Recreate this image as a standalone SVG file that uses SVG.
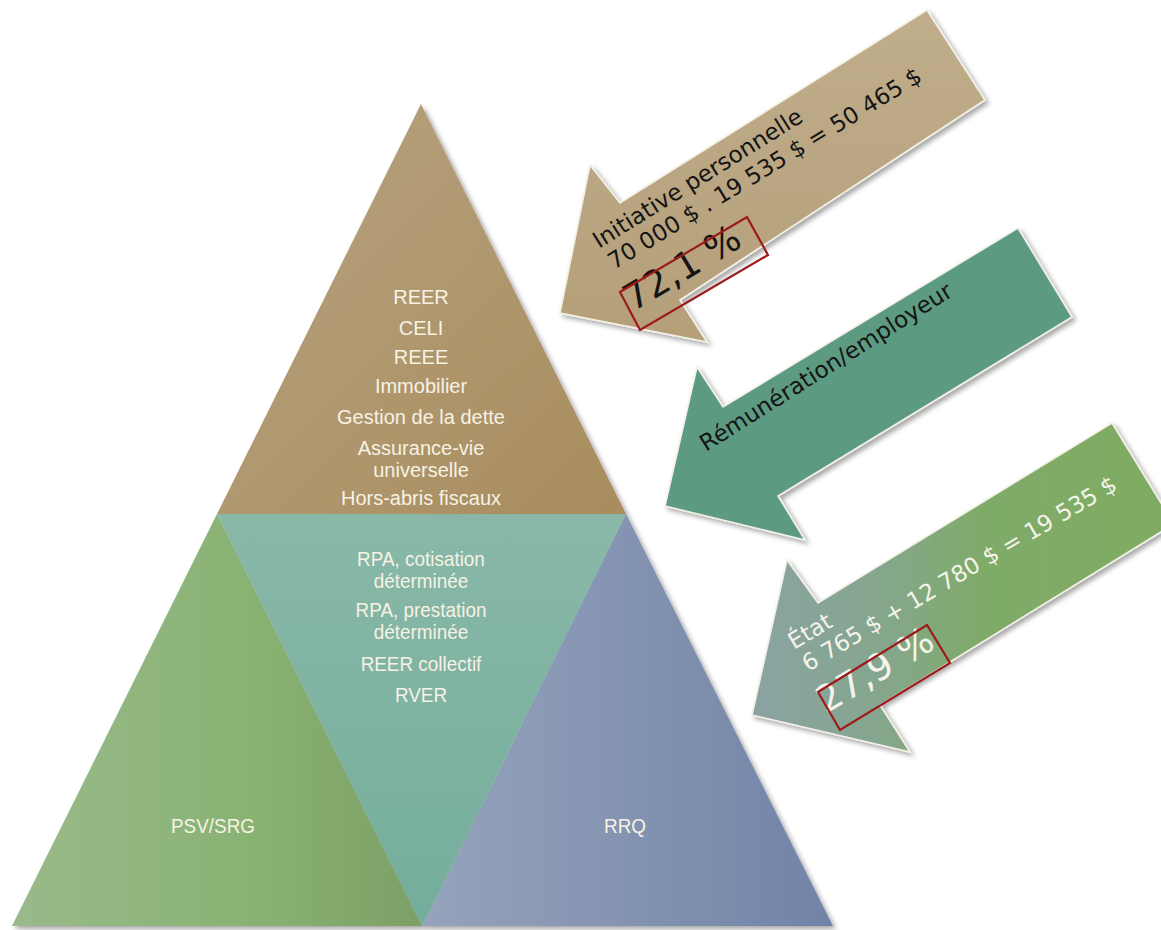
<svg xmlns="http://www.w3.org/2000/svg" width="1161" height="930" viewBox="0 0 1161 930">
  <defs>
    <style>
      .pyr { font-family: "Liberation Sans", Arial, sans-serif; fill: #f7f2e4; text-anchor: middle; }
      .top { font-size: 20px; }
      .low { font-size: 21px; }
      .arrow-txt { font-family: "DejaVu Sans", Verdana, sans-serif; font-size: 23px; }
      .big { font-size: 37px; }
      .pct-box { fill: none; stroke: #9e1a1a; stroke-width: 2.2; }
      .arrow-shape { stroke: #f3f0e6; stroke-width: 1.6; stroke-linejoin: miter; }
    </style>
    <filter id="softShadow" x="-10%" y="-10%" width="125%" height="125%">
      <feDropShadow dx="3" dy="3" stdDeviation="2.5" flood-color="#000" flood-opacity="0.35"/>
    </filter>
    <linearGradient id="gTan" x1="0" y1="0" x2="1" y2="1">
      <stop offset="0" stop-color="#b7a381"/>
      <stop offset="1" stop-color="#a88c5d"/>
    </linearGradient>
    <linearGradient id="gTeal" x1="0" y1="0" x2="0" y2="1">
      <stop offset="0" stop-color="#89b8a8"/>
      <stop offset="1" stop-color="#74ad9b"/>
    </linearGradient>
    <linearGradient id="gGreen" x1="0" y1="0" x2="1" y2="0">
      <stop offset="0" stop-color="#99ba8b"/>
      <stop offset="0.6" stop-color="#88b272"/>
      <stop offset="1" stop-color="#7d9f66"/>
    </linearGradient>
    <linearGradient id="gBlue" x1="0" y1="0" x2="1" y2="0">
      <stop offset="0" stop-color="#95a3bb"/>
      <stop offset="1" stop-color="#7183a7"/>
    </linearGradient>
    <linearGradient id="gArrowTan" x1="0" y1="0" x2="0" y2="1">
      <stop offset="0" stop-color="#c0ad8b"/>
      <stop offset="1" stop-color="#b49f79"/>
    </linearGradient>
    <linearGradient id="gArrowGreen" x1="752" y1="0" x2="1174" y2="0" gradientUnits="userSpaceOnUse">
      <stop offset="0" stop-color="#8aa3a2"/>
      <stop offset="0.3" stop-color="#85a68e"/>
      <stop offset="0.55" stop-color="#7fab68"/>
      <stop offset="1" stop-color="#80ab63"/>
    </linearGradient>
  </defs>

  <rect width="1161" height="930" fill="#ffffff"/>

  <!-- Pyramid -->
  <g id="pyramid" filter="url(#softShadow)">
    <g id="node-initiative">
      <polygon points="421,104 217,514 626,514" fill="url(#gTan)"/>
    </g>
    <g id="node-psv">
      <polygon points="217,514 12,926 422,926" fill="url(#gGreen)"/>
    </g>
    <g id="node-rrq">
      <polygon points="626,514 422,926 833,926" fill="url(#gBlue)"/>
    </g>
    <g id="node-employeur">
      <polygon points="217,514 626,514 422,926" fill="url(#gTeal)"/>
    </g>
  </g>

  <!-- Pyramid labels -->
  <g id="labels-initiative" class="pyr top">
    <text x="421" y="304">REER</text>
    <text x="421" y="335">CELI</text>
    <text x="421" y="364">REEE</text>
    <text x="421" y="393">Immobilier</text>
    <text x="421" y="424">Gestion de la dette</text>
    <text x="421" y="455">Assurance-vie</text>
    <text x="421" y="477">universelle</text>
    <text x="421" y="505">Hors-abris fiscaux</text>
  </g>
  <!-- narrow lettering for the lower tier -->
  <g id="labels-employeur" class="pyr low" transform="translate(421,0) scale(0.9,1) translate(-421,0)">
    <text x="421" y="566">RPA, cotisation</text>
    <text x="421" y="588">déterminée</text>
    <text x="421" y="617">RPA, prestation</text>
    <text x="421" y="639">déterminée</text>
    <text x="421" y="671">REER collectif</text>
    <text x="421" y="702">RVER</text>
  </g>
  <g id="labels-base" class="pyr low">
    <text transform="translate(213,833) scale(0.9,1)">PSV/SRG</text>
    <text transform="translate(625,833) scale(0.9,1)">RRQ</text>
  </g>

  <!-- Block arrows -->
  <g id="arrow-initiative" filter="url(#softShadow)">
    <polygon class="arrow-shape" points="560,313 590,165 620,203 927,10 985,100 680,300 707,342" fill="url(#gArrowTan)"/>
  </g>
  <g id="arrow-initiative-text" class="arrow-txt" fill="#141414">
    <text transform="translate(599,249) rotate(-32)">Initiative personnelle</text>
    <text transform="translate(614,270) rotate(-31.5)">70 000 $ . 19 535 $ = 50 465 $</text>
    <text class="big" transform="translate(633,312) rotate(-31)">72,1 %</text>
    <polygon class="pct-box" points="620,292 747,217 768,255 640,330"/>
  </g>

  <g id="arrow-remuneration" filter="url(#softShadow)">
    <polygon class="arrow-shape" points="665,506 697,367 723,407 1018,228 1072,317 778,496 805,540" fill="#5b9a82"/>
  </g>
  <g id="arrow-remuneration-text" class="arrow-txt" fill="#141414">
    <text transform="translate(706,452) rotate(-32.3)">Rémunération/employeur</text>
  </g>

  <g id="arrow-etat" filter="url(#softShadow)">
    <polygon class="arrow-shape" points="752,715 787,560 818,603 1112,423 1174,524 880,705 910,752" fill="url(#gArrowGreen)"/>
  </g>
  <g id="arrow-etat-text" class="arrow-txt" fill="#f4f4ea">
    <text transform="translate(794,650) rotate(-31)">État</text>
    <text transform="translate(808,672) rotate(-30.5)">6 765 $ + 12 780 $ = 19 535 $</text>
    <text class="big" transform="translate(826,714) rotate(-31)">27,9 %</text>
    <polygon class="pct-box" points="818,692 927,625 950,663 840,730"/>
  </g>
</svg>
